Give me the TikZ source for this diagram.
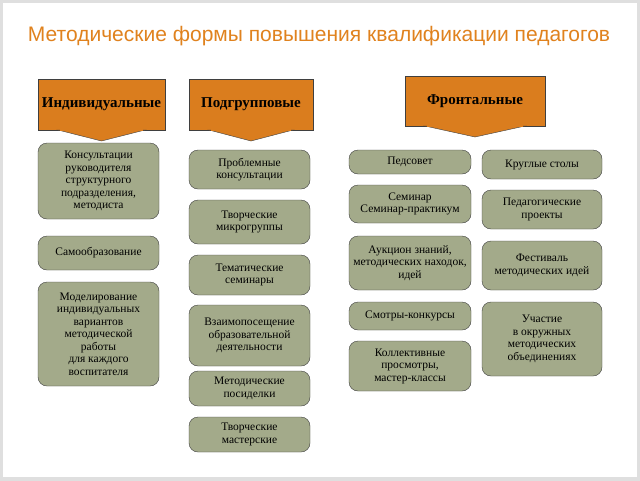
\documentclass[tikz,border=0pt]{standalone}
\usepackage{fontspec}
\setmainfont{Liberation Serif}
\newfontfamily\titlefont{Liberation Sans}
\usetikzlibrary{positioning}
\definecolor{headorange}{HTML}{DA7D1E}
\definecolor{titleorange}{HTML}{E0821E}
\definecolor{formgreen}{HTML}{A3AA8A}
\definecolor{edgegray}{HTML}{3F3F3F}
\tikzset{
	formbox/.style={draw=edgegray,fill=formgreen,rounded corners=9pt,align=center,
		font=\fontsize{11.5}{12.5}\selectfont,inner sep=1pt},
	headtext/.style={font=\bfseries\fontsize{15}{17}\selectfont}
}
\newcommand{\headbox}[6]{%
	% box: left, top, right, bottom, name, text
	\fill[headorange,draw=edgegray] (#1,#2) rectangle (#3,#4);
	\fill[headorange,draw=edgegray] ($(#1,#4)+(20,0)$) -- ($(#3,#4)+(-20,0)$) -- ($(#1/2+#3/2,#4)+(0,11)$) -- cycle;
	\fill[headorange] ($(#1,#4)+(22,-1)$) rectangle ($(#3,#4)+(-22,1)$);
	\node[headtext] (#5) at ($(#1/2+#3/2,#2/2+#4/2)$) {#6};
}
\usetikzlibrary{calc}
\begin{document}
\begin{tikzpicture}[x=1pt,y=-1pt]
	\useasboundingbox (0,0) rectangle (640,480);
	\fill[white] (0,0) rectangle (640,480);
	\draw[gray!25,line width=6pt] (0,0) rectangle (640,480);

	%title
	\node[titleorange,font=\titlefont\fontsize{21}{24}\selectfont] (title) at (319,36) {Методические формы повышения квалификации педагогов};

	%headers
	\headbox{38}{79}{165}{130}{indiv}{Индивидуальные}
	\headbox{189}{79}{313}{130}{subgr}{Подгрупповые}
	\headbox{405}{76}{545}{126}{front}{Фронтальные}

	%individual forms
	\node[formbox,minimum width=121pt,minimum height=76pt] (cons) at (98.5,181) {Консультации\\руководителя\\структурного\\подразделения,\\методиста};
	\node[formbox,minimum width=121pt,minimum height=34pt] (self) at (98.5,253) {Самообразование};
	\node[formbox,minimum width=121pt,minimum height=104pt] (model) at (98.5,334) {Моделирование\\индивидуальных\\вариантов\\методической\\работы\\для каждого\\воспитателя};

	%subgroup forms
	\node[formbox,minimum width=121pt,minimum height=39pt] (probl) at (249.5,169.5) {Проблемные\\консультации};
	\node[formbox,minimum width=121pt,minimum height=44pt] (micro) at (249.5,222) {Творческие\\микрогруппы};
	\node[formbox,minimum width=121pt,minimum height=40pt] (theme) at (249.5,275) {Тематические\\семинары};
	\node[formbox,minimum width=121pt,minimum height=61pt] (visit) at (249.5,335.5) {Взаимопосещение\\образовательной\\деятельности};
	\node[formbox,minimum width=121pt,minimum height=35pt] (sit) at (249.5,388.5) {Методические\\посиделки};
	\node[formbox,minimum width=121pt,minimum height=35pt] (work) at (249.5,434.5) {Творческие\\мастерские};

	%frontal forms, left column
	\node[formbox,minimum width=122pt,minimum height=24pt] (council) at (410,162) {Педсовет};
	\node[formbox,minimum width=122pt,minimum height=38pt] (semin) at (410,204) {Семинар\\Семинар-практикум};
	\node[formbox,minimum width=122pt,minimum height=54pt] (auction) at (410,263) {Аукцион знаний,\\методических находок,\\идей};
	\node[formbox,minimum width=122pt,minimum height=28pt] (contest) at (410,316) {Смотры-конкурсы};
	\node[formbox,minimum width=122pt,minimum height=50pt] (master) at (410,366) {Коллективные\\просмотры,\\мастер-классы};

	%frontal forms, right column
	\node[formbox,minimum width=120pt,minimum height=29pt] (round) at (542,164.5) {Круглые столы};
	\node[formbox,minimum width=120pt,minimum height=39pt] (proj) at (542,209.5) {Педагогические\\проекты};
	\node[formbox,minimum width=120pt,minimum height=49pt] (fest) at (542,265.5) {Фестиваль\\методических идей};
	\node[formbox,minimum width=120pt,minimum height=74pt] (assoc) at (542,339) {Участие\\в окружных\\методических\\объединениях};
\end{tikzpicture}
\end{document}
